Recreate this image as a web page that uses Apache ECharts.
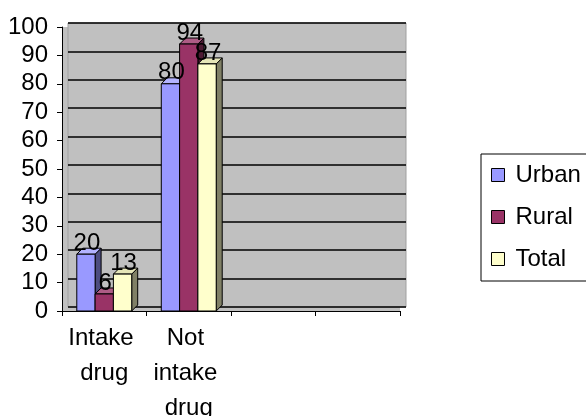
<!DOCTYPE html>
<html>
<head>
<meta charset="utf-8">
<script src="https://cdn.jsdelivr.net/npm/echarts@6/dist/echarts.min.js"></script>
<style>
  html, body { margin: 0; padding: 0; background: #ffffff; }
  #chart { width: 586px; height: 416px; }
</style>
</head>
<body>
<div id="chart"></div>
<script>
// Drug intake by residence (%)
const categories = ['Intake drug', 'Not intake drug', '', ''];
const urban = [20, 80, null, null];
const rural = [6, 94, null, null];
const total = [13, 87, null, null];
const yTicks = { min: 0, max: 100, step: 10 };

const FONT = 'Liberation Sans, Arial, sans-serif';
const GROUP_SHARE = 0.65;   // share of a category band filled by the bar cluster
const DEPTH_X = 6;          // 3D extrusion of each column
const DEPTH_Y = -6;

const seriesDefs = [
  { name: 'Urban', data: urban, color: '#9999FF', side: '#4D4D80', top: '#B3B3FF' },
  { name: 'Rural', data: rural, color: '#993366', side: '#4D1A33', top: '#AD5C85' },
  { name: 'Total', data: total, color: '#FFFFCC', side: '#808066', top: '#E6E6B8' }
];
const nSeries = seriesDefs.length;

function toPairs(arr) {
  return arr.map((v, k) => [k, v]).filter(p => p[1] != null);
}

// geometry of one column, from the axes' own scales
function columnGeom(api, idx) {
  const k = api.value(0);
  const v = api.value(1);
  const base = api.coord([k, 0]);
  const top = api.coord([k, v]);
  const band = api.size([1, 0])[0];
  const bw = band * GROUP_SHARE / nSeries;
  const x0 = base[0] - band * GROUP_SHARE / 2 + idx * bw;
  return { x0, bw, yTop: top[1], yBase: base[1], v };
}

function columnRenderer(idx, def) {
  return function (params, api) {
    const g = columnGeom(api, idx);
    const x1 = g.x0 + g.bw;
    const h = g.yBase - g.yTop;
    const line = { stroke: '#000000', lineWidth: 1 };
    return {
      type: 'group',
      children: [
        {
          type: 'polygon',
          shape: { points: [[x1, g.yTop], [x1 + DEPTH_X, g.yTop + DEPTH_Y], [x1 + DEPTH_X, g.yBase + DEPTH_Y], [x1, g.yBase]] },
          style: Object.assign({ fill: def.side }, line)
        },
        {
          type: 'polygon',
          shape: { points: [[g.x0, g.yTop], [g.x0 + DEPTH_X, g.yTop + DEPTH_Y], [x1 + DEPTH_X, g.yTop + DEPTH_Y], [x1, g.yTop]] },
          style: Object.assign({ fill: def.top }, line)
        },
        {
          type: 'rect',
          shape: { x: g.x0, y: g.yTop, width: g.bw, height: h },
          style: Object.assign({ fill: def.color }, line)
        }
      ]
    };
  };
}

function labelRenderer(idx) {
  return function (params, api) {
    const g = columnGeom(api, idx);
    return {
      type: 'text',
      x: g.x0 + g.bw / 2 + 1,
      y: g.yTop + 1,
      style: {
        text: String(g.v),
        fontFamily: FONT,
        fontSize: 24,
        fill: '#000000',
        align: 'center',
        verticalAlign: 'bottom'
      }
    };
  };
}

const chart = echarts.init(document.getElementById('chart'), null, { renderer: 'canvas' });

const columnSeries = seriesDefs.map((s, i) => ({
  name: s.name,
  type: 'custom',
  xAxisIndex: 0,
  yAxisIndex: 0,
  z: 3,
  data: toPairs(s.data),
  itemStyle: { color: s.color, borderColor: '#000000', borderWidth: 1 },
  renderItem: columnRenderer(i, s),
  emphasis: { disabled: true }
}));

const labelSeries = seriesDefs.map((s, i) => ({
  name: s.name,
  type: 'custom',
  xAxisIndex: 0,
  yAxisIndex: 0,
  z: 6,
  data: toPairs(s.data),
  itemStyle: { color: s.color },
  renderItem: labelRenderer(i),
  silent: true
}));

chart.setOption({
  animation: false,
  backgroundColor: '#ffffff',
  textStyle: { fontFamily: FONT },
  grid: [
    // front plane: columns and axes
    { left: 62, right: 186, top: 27, bottom: 105, containLabel: false, outerBoundsMode: 'none',
      show: true, backgroundColor: '#C0C0C0', borderWidth: 0 },
    // back wall: gridlines
    { left: 68, right: 180, top: 23, bottom: 109, containLabel: false, outerBoundsMode: 'none',
      show: true, backgroundColor: '#C0C0C0', borderColor: '#A0A0A0', borderWidth: 1 }
  ],
  legend: {
    orient: 'vertical',
    left: 481,
    top: 154,
    padding: [9, 12, 10, 10],
    itemGap: 18,
    itemWidth: 13,
    itemHeight: 13,
    icon: 'rect',
    backgroundColor: '#ffffff',
    borderColor: '#000000',
    borderWidth: 1,
    borderRadius: 0,
    textStyle: { fontFamily: FONT, fontSize: 24, color: '#000000', padding: [0, 0, 0, 6] },
    itemStyle: { borderColor: '#000000', borderWidth: 1 },
    data: seriesDefs.map(s => s.name)
  },
  xAxis: [
    {
      type: 'category',
      gridIndex: 0,
      data: categories,
      axisLine: { lineStyle: { color: '#000000', width: 1 } },
      axisTick: { show: true, length: 5, inside: false, lineStyle: { color: '#000000' } },
      axisLabel: {
        interval: 0,
        margin: 10,
        fontFamily: FONT,
        fontSize: 24,
        color: '#000000',
        lineHeight: 35,
        width: 84,
        overflow: 'break'
      },
      splitLine: { show: false }
    },
    {
      type: 'category',
      gridIndex: 1,
      data: categories,
      show: false
    }
  ],
  yAxis: [
    {
      type: 'value',
      gridIndex: 0,
      min: yTicks.min,
      max: yTicks.max,
      interval: yTicks.step,
      axisLine: { show: true, lineStyle: { color: '#000000', width: 1 } },
      axisTick: { show: true, length: 5, lineStyle: { color: '#000000' } },
      axisLabel: { margin: 14, fontFamily: FONT, fontSize: 24, color: '#000000' },
      splitLine: { show: false }
    },
    {
      type: 'value',
      gridIndex: 1,
      min: yTicks.min,
      max: yTicks.max,
      interval: yTicks.step,
      axisLine: { show: false },
      axisTick: { show: false },
      axisLabel: { show: false },
      splitLine: { show: true, lineStyle: { color: '#000000', width: 1.5 } }
    }
  ],
  series: columnSeries.concat(labelSeries)
});
</script>
</body>
</html>
